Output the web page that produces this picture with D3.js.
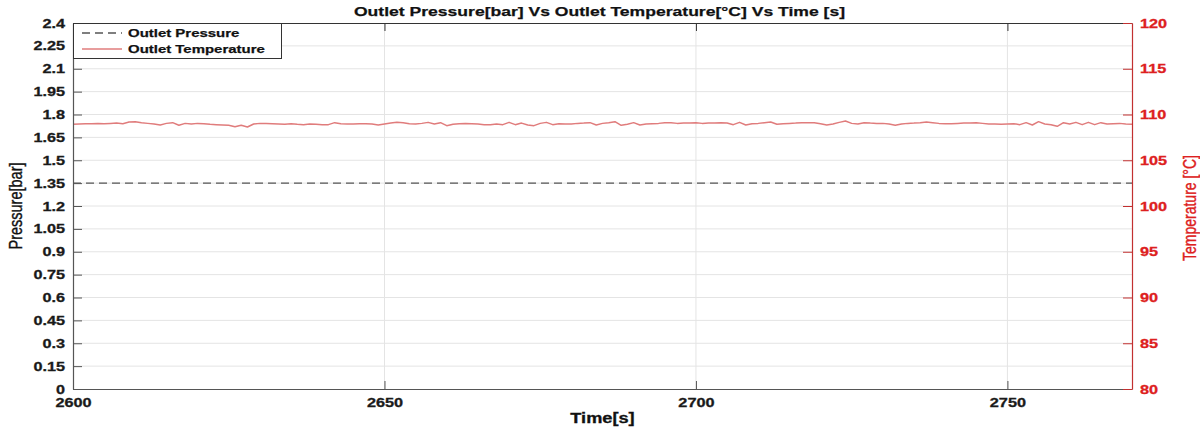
<!DOCTYPE html>
<html><head><meta charset="utf-8">
<script src="https://cdn.jsdelivr.net/npm/d3@7"></script>
<style>
body{margin:0;background:#fff;}
svg{display:block;font-family:Arial,"Liberation Sans",sans-serif;}
</style>
</head><body>
<svg id="chart" width="1200" height="429"></svg>
<script>
// ---------------- data ----------------
const titleText = "Outlet Pressure[bar] Vs Outlet Temperature[°C] Vs Time [s]";
const xLabel = "Time[s]";
const yLeftLabel = "Pressure[bar]";
const yRightLabel = "Temperature [°C]";
const seriesNames = ["Outlet Pressure", "Outlet Temperature"];
const xTicks = [2600, 2650, 2700, 2750];
const xTickLabels = ["2600", "2650", "2700", "2750"];
const pressureTicks = [0, 0.15, 0.3, 0.45, 0.6, 0.75, 0.9, 1.05, 1.2, 1.35, 1.5, 1.65, 1.8, 1.95, 2.1, 2.25, 2.4];
const pressureTickLabels = ["0", "0.15", "0.3", "0.45", "0.6", "0.75", "0.9", "1.05", "1.2", "1.35", "1.5", "1.65", "1.8", "1.95", "2.1", "2.25", "2.4"];
const tempTicks = [80, 85, 90, 95, 100, 105, 110, 115, 120];
const tempTickLabels = ["80", "85", "90", "95", "100", "105", "110", "115", "120"];
const timeDomain = [2600, 2770];
const pressureTime = [2600, 2770];
const pressureValues = [1.35, 1.35];
const temperatureStart = 2600;   // first sample time [s]
const temperatureStep = 1;       // sampling interval [s]
const temperatureValues = [
  108.93,108.96,109.00,109.00,109.03,109.00,109.03,109.06,109.00,109.18,
  109.22,109.11,109.03,108.96,108.85,109.03,109.11,108.82,109.03,108.96,
  109.03,109.00,108.93,108.89,108.85,108.82,108.67,108.82,108.63,108.96,
  109.03,109.03,109.00,108.96,108.93,109.00,108.93,108.89,108.96,108.93,
  108.89,108.89,109.11,109.00,108.96,108.96,109.00,109.00,108.96,108.85,
  108.96,109.06,109.14,109.11,109.00,108.96,109.03,109.14,108.96,109.11,
  108.78,108.93,109.00,109.03,109.00,108.96,108.89,108.89,108.96,108.89,
  109.14,108.89,109.06,108.85,108.78,109.03,109.14,108.89,109.00,108.96,
  108.96,109.03,109.06,109.11,108.85,109.03,109.11,109.22,108.82,108.93,
  109.11,108.85,108.96,109.00,109.03,109.11,109.11,109.03,109.06,109.06,
  109.11,109.03,109.06,109.06,109.11,109.06,108.89,109.14,108.85,109.00,
  109.03,109.11,109.18,108.93,109.00,109.03,109.06,109.11,109.11,109.11,
  109.00,108.85,108.96,109.14,109.29,109.03,108.96,109.11,109.06,109.03,
  109.03,108.96,108.82,108.96,109.03,109.06,109.11,109.18,109.11,109.03,
  109.00,109.00,109.03,109.06,109.06,109.11,109.03,108.96,108.96,108.93,
  108.96,109.00,108.89,109.11,108.85,109.22,108.96,108.89,108.71,109.11,
  108.96,109.14,108.89,109.14,108.89,109.11,108.96,109.00,109.03,108.96,
  108.93
];

// ---------------- layout ----------------
const L = 73, R = 1132, T = 23, B = 389;
const STRETCH = 1.3;
const RED = "#dd2020";
const AXIS = "#555";
const svg = d3.select("#chart");

const x = d3.scaleLinear().domain(timeDomain).range([L, R]);
const yP = d3.scaleLinear().domain([0, 2.4]).range([B, T]);
const yT = d3.scaleLinear().domain([80, 120]).range([B, T]);

// grid
const grid = svg.append("g");
grid.selectAll("line.h").data(pressureTicks.slice(1, -1)).join("line")
  .attr("x1", L).attr("x2", R).attr("y1", d => yP(d)).attr("y2", d => yP(d))
  .attr("stroke", "#e4e4e4").attr("stroke-width", 1);
grid.selectAll("line.v").data(xTicks.slice(1)).join("line")
  .attr("y1", T).attr("y2", B).attr("x1", d => x(d)).attr("x2", d => x(d))
  .attr("stroke", "#e4e4e4").attr("stroke-width", 1);

// pressure line (dashed)
const pData = pressureTime.map((t, i) => [t, pressureValues[i]]);
svg.append("path").datum(pData)
  .attr("d", d3.line().x(d => x(d[0])).y(d => yP(d[1])))
  .attr("fill", "none").attr("stroke", "#555").attr("stroke-width", 1.3)
  .attr("stroke-dasharray", "8,5");

// temperature line
const tData = temperatureValues.map((v, i) => [temperatureStart + i * temperatureStep, v]);
svg.append("path").datum(tData)
  .attr("d", d3.line().x(d => x(d[0])).y(d => yT(d[1])))
  .attr("fill", "none").attr("stroke", "#e07c7c").attr("stroke-width", 1.5)
  .attr("stroke-linejoin", "round");

// top border with ticks
const gTop = svg.append("g").attr("transform", `translate(0,${T})`)
  .call(d3.axisTop(x).tickValues(xTicks).tickSize(-8).tickSizeOuter(0).tickFormat(""));
gTop.select(".domain").attr("stroke", "#333");
gTop.selectAll(".tick line").attr("stroke", "#333");

// bottom axis
const gBot = svg.append("g").attr("transform", `translate(0,${B})`)
  .call(d3.axisBottom(x).tickValues(xTicks).tickFormat((d, i) => xTickLabels[i])
    .tickSize(-8).tickSizeOuter(0).tickPadding(9));
gBot.select(".domain").attr("stroke", AXIS).attr("stroke-width", 1.2);
gBot.selectAll(".tick line").attr("stroke", AXIS);
gBot.selectAll(".tick text").attr("class", "st").attr("font-size", 12.5)
  .attr("font-weight", "bold").attr("fill", "#1a1a1a").attr("stroke", "#1a1a1a").attr("stroke-width", 0.3)
  .attr("font-family", "Arial, Liberation Sans, sans-serif");

// left axis
const gLeft = svg.append("g").attr("transform", `translate(${L},0)`)
  .call(d3.axisLeft(yP).tickValues(pressureTicks).tickFormat((d, i) => pressureTickLabels[i])
    .tickSize(-9).tickSizeOuter(0).tickPadding(8));
gLeft.select(".domain").attr("stroke", AXIS).attr("stroke-width", 1.2);
gLeft.selectAll(".tick line").attr("stroke", AXIS);
gLeft.selectAll(".tick text").attr("class", "st").attr("font-size", 12.5)
  .attr("font-weight", "bold").attr("fill", "#1a1a1a").attr("stroke", "#1a1a1a").attr("stroke-width", 0.3)
  .attr("font-family", "Arial, Liberation Sans, sans-serif");

// right axis
const gRight = svg.append("g").attr("transform", `translate(${R},0)`)
  .call(d3.axisRight(yT).tickValues(tempTicks).tickFormat((d, i) => tempTickLabels[i])
    .tickSize(-9).tickSizeOuter(0).tickPadding(8));
gRight.select(".domain").attr("stroke", "#c23030").attr("stroke-width", 1.2);
gRight.selectAll(".tick line").attr("stroke", "#c23030");
gRight.selectAll(".tick text").attr("class", "st").attr("font-size", 12.5)
  .attr("font-weight", "bold").attr("fill", RED).attr("stroke", RED).attr("stroke-width", 0.3)
  .attr("font-family", "Arial, Liberation Sans, sans-serif");

// title
svg.append("text").attr("class", "st").attr("x", (L + R) / 2 - 3).attr("y", 16)
  .attr("text-anchor", "middle").attr("font-size", 13.5).attr("font-weight", "bold")
  .attr("fill", "#111").attr("stroke", "#111").attr("stroke-width", 0.25).text(titleText);

// x label
svg.append("text").attr("class", "st").attr("x", (L + R) / 2).attr("y", 423)
  .attr("text-anchor", "middle").attr("font-size", 14).attr("font-weight", "bold")
  .attr("fill", "#111").attr("stroke", "#111").attr("stroke-width", 0.3).text(xLabel);

// y labels
svg.append("text").attr("transform", `translate(22,${(T + B) / 2}) scale(1.25,1) rotate(-90)`)
  .attr("text-anchor", "middle").attr("font-size", 14.5).attr("fill", "#111")
  .attr("stroke", "#111").attr("stroke-width", 0.3)
  .text(yLeftLabel);
svg.append("text").attr("transform", `translate(1196,${(T + B) / 2 + 2}) scale(1.25,1) rotate(-90)`)
  .attr("text-anchor", "middle").attr("font-size", 14).attr("fill", RED)
  .attr("stroke", RED).attr("stroke-width", 0.3)
  .text(yRightLabel);

// legend
const lg = svg.append("g");
lg.append("rect").attr("x", L + 0.5).attr("y", T + 0.5).attr("width", 208).attr("height", 35)
  .attr("fill", "#fff").attr("stroke", "#333").attr("stroke-width", 1);
const legendStyles = [
  {stroke: "#555", dash: "8,5", w: 1.3},
  {stroke: "#e07c7c", dash: null, w: 1.5}
];
seriesNames.forEach((name, i) => {
  const yy = T + 10 + i * 16;
  lg.append("line").attr("x1", 82).attr("x2", 122).attr("y1", yy).attr("y2", yy)
    .attr("stroke", legendStyles[i].stroke).attr("stroke-width", legendStyles[i].w)
    .attr("stroke-dasharray", legendStyles[i].dash);
  lg.append("text").attr("class", "st").attr("x", 128).attr("y", yy + 4)
    .attr("font-size", 11.5).attr("font-weight", "bold").attr("fill", "#111")
    .attr("stroke", "#111").attr("stroke-width", 0.25).text(name);
});

// horizontal stretch of text to match reference aspect
svg.selectAll("text.st").each(function () {
  const w = this.getComputedTextLength();
  this.setAttribute("textLength", (w * STRETCH).toFixed(1));
  this.setAttribute("lengthAdjust", "spacingAndGlyphs");
});
</script>
</body></html>
